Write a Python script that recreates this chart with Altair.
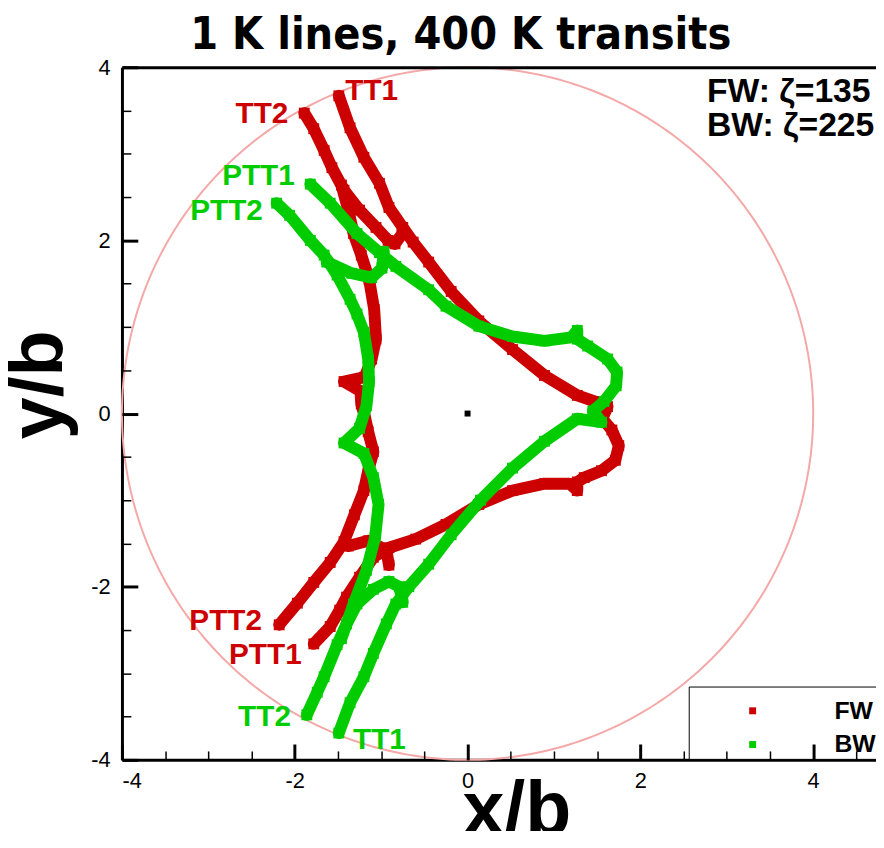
import altair as alt
import numpy as np
import pandas as pd

# ---------------- data (x/b, y/b) ----------------
# FW (red) traces
fw_tt1_x = [-1.49, -1.36, -1.20, -1.02, -0.91, -0.75, -0.63, -0.45, -0.19, 0.13, 0.52, 0.89, 1.27, 1.47, 1.62,
            1.56, 1.67, 1.75, 1.71, 1.55, 1.35, 1.27, 1.27, 1.18, 0.89, 0.52, 0.13, -0.25, -0.60, -0.91,
            -1.09, -1.25, -1.40, -1.48, -1.59, -1.78]
fw_tt1_y = [3.67, 3.30, 2.96, 2.66, 2.38, 2.15, 1.98, 1.75, 1.41, 1.07, 0.74, 0.44, 0.21, 0.14, 0.08,
            -0.06, -0.19, -0.37, -0.54, -0.66, -0.74, -0.79, -0.89, -0.81, -0.81, -0.89, -1.05, -1.28, -1.45, -1.55,
            -1.66, -1.89, -2.12, -2.27, -2.46, -2.66]
fw_tt2_x = [-1.89, -1.78, -1.66, -1.57, -1.43, -1.25, -1.06, -0.92, -0.84, -0.76]
fw_tt2_y = [3.47, 3.29, 3.04, 2.84, 2.58, 2.35, 2.15, 2.00, 1.96, 2.07]
fw_ptt2_x = [-1.46, -1.38, -1.32, -1.23, -1.14, -1.08, -1.06, -1.11, -1.19, -1.43, -1.24, -1.23, -1.19, -1.15,
             -1.09, -1.15, -1.20, -1.31, -1.43, -1.59, -1.78, -1.97, -2.18]
fw_ptt2_y = [2.64, 2.35, 2.08, 1.83, 1.55, 1.20, 0.86, 0.63, 0.42, 0.37, 0.26, 0.11, -0.03, -0.21,
             -0.44, -0.66, -0.89, -1.17, -1.48, -1.72, -1.95, -2.19, -2.44]
fw_z_x = [-1.38, -1.15, -0.94, -0.91]
fw_z_y = [-1.53, -1.47, -1.58, -1.75]

# BW (green) traces
bw_tt1_x = [-1.49, -1.36, -1.20, -1.09, -0.94, -0.83, -0.68, -0.45, -0.19, 0.15, 0.52, 0.89, 1.27, 1.55, 1.45,
            1.58, 1.72, 1.73, 1.62, 1.39, 1.27, 1.27, 1.20, 0.89, 0.52, 0.13, -0.25, -0.45, -0.83, -1.02,
            -1.28, -1.59, -1.82]
bw_tt1_y = [-3.69, -3.34, -3.04, -2.77, -2.43, -2.20, -2.00, -1.74, -1.40, -1.00, -0.63, -0.32, -0.06, -0.10, 0.03,
            0.14, 0.32, 0.48, 0.63, 0.78, 0.86, 0.96, 0.88, 0.84, 0.89, 1.01, 1.24, 1.43, 1.70, 1.86,
            2.08, 2.43, 2.65]
bw_tt2_x = [-1.86, -1.74, -1.66, -1.51, -1.40, -1.28, -1.09, -0.91, -0.79, -0.75]
bw_tt2_y = [-3.48, -3.22, -3.04, -2.67, -2.43, -2.20, -2.03, -1.94, -2.00, -2.18]
bw_ptt2_x = [-1.46, -1.32, -1.17, -1.07, -1.03, -1.09, -1.20, -1.43, -1.25, -1.17, -1.14, -1.15, -1.20, -1.28,
             -1.36, -1.51, -1.66, -1.82, -2.06, -2.21]
bw_ptt2_y = [-2.60, -2.20, -1.81, -1.43, -1.05, -0.74, -0.46, -0.34, -0.17, 0.09, 0.37, 0.63, 0.94, 1.15,
             1.32, 1.60, 1.83, 2.00, 2.29, 2.43]
bw_z_x = [-1.63, -1.34, -1.11, -0.99, -0.97]
bw_z_y = [1.75, 1.62, 1.57, 1.68, 1.87]

series_names = ["FW", "BW"]
series_colors = ["#cc0000", "#00cc00"]

# curve labels
lab_text = ["TT1", "TT2", "PTT2", "PTT1", "PTT1", "PTT2", "TT2", "TT1"]
lab_x = [-1.11, -2.38, -2.80, -2.34, -2.42, -2.79, -2.35, -1.02]
lab_y = [3.62, 3.36, -2.50, -2.89, 2.64, 2.23, -3.61, -3.87]
lab_series = ["FW"] * 4 + ["BW"] * 4

# corner note
note_text = ["FW: ζ=135", "BW: ζ=225"]
note_x = [2.77, 2.77]
note_y = [3.60, 3.21]

chart_title = "1 K lines, 400 K transits"

circle_radius = 4.0
major_ticks = [-4, -2, 0, 2, 4]
minor_x = [-3.5, -3, -2.5, -1.5, -1, -0.5, 0.5, 1, 1.5, 2.5, 3, 3.5, 4.5]
minor_y = [-3.5, -3, -2.5, -1.5, -1, -0.5, 0.5, 1, 1.5, 2.5, 3, 3.5]


# ---------------- tables ----------------
def trace(xs, ys, series, name):
    return pd.DataFrame({"x": xs, "y": ys, "series": series, "trace": name, "i": range(len(xs))})


fw = pd.concat([trace(fw_tt1_x, fw_tt1_y, "FW", "a"), trace(fw_tt2_x, fw_tt2_y, "FW", "b"),
                trace(fw_ptt2_x, fw_ptt2_y, "FW", "c"), trace(fw_z_x, fw_z_y, "FW", "d")])
bw = pd.concat([trace(bw_tt1_x, bw_tt1_y, "BW", "a"), trace(bw_tt2_x, bw_tt2_y, "BW", "b"),
                trace(bw_ptt2_x, bw_ptt2_y, "BW", "c"), trace(bw_z_x, bw_z_y, "BW", "d")])

t = np.linspace(0, 2 * np.pi, 361)
circle = pd.DataFrame({"x": circle_radius * np.cos(t), "y": circle_radius * np.sin(t), "i": range(361)})
center = pd.DataFrame({"x": [0.0], "y": [0.0]})
labels = pd.DataFrame({"x": lab_x, "y": lab_y, "text": lab_text, "series": lab_series})
notes = pd.DataFrame({"x": note_x, "y": note_y, "text": note_text})
title_df = pd.DataFrame({"text": [chart_title]})

W, H = 761, 699
xs = alt.Scale(domain=[-4, 4.727], nice=False, zero=False)
ys = alt.Scale(domain=[-4, 4], nice=False, zero=False)
FONT = "Liberation Sans, Arial, sans-serif"
NARROW = "Liberation Sans Narrow, Arial Narrow, DejaVu Sans Condensed, sans-serif"
color_of = dict(zip(series_names, series_colors))

col_scale = alt.Scale(domain=series_names, range=series_colors)

legend = alt.Legend(title=" ", titleFontSize=6, titlePadding=5, orient="none", legendX=572, legendY=625,
                    symbolType="square", symbolSize=49, symbolOffset=51,
                    labelOffset=70, labelFont=FONT, labelFontSize=25, labelFontWeight="bold",
                    labelColor="black", padding=1, rowPadding=8, strokeColor="black",
                    fillColor="white")

# main axes (labels and titles)
x_main = alt.Axis(orient="bottom", values=major_ticks, labelExpr="'' + datum.value", labelFont=FONT,
                  labelFontSize=22, labelColor="black", labelPadding=11, ticks=False, tickSize=0,
                  domain=True, domainColor="black", domainWidth=3, grid=False, title="x/b",
                  titleFont=FONT, titleFontSize=76, titleFontWeight="bold", titleColor="black",
                  titleX=398, titleY=74, titleBaseline="alphabetic", titleAlign="center")
y_main = alt.Axis(orient="left", values=major_ticks, labelExpr="'' + datum.value", labelFont=FONT,
                  labelFontSize=22, labelColor="black", labelPadding=12, ticks=False, tickSize=0,
                  domain=True, domainColor="black", domainWidth=3, grid=False, title="y/b",
                  titleFont=FONT, titleFontSize=76, titleFontWeight="bold", titleColor="black",
                  titleX=-84, titleY=320, titleAngle=270, titleBaseline="middle", titleAlign="center")

base_circle = alt.Chart(circle).mark_line(color="#f4a8a8", strokeWidth=2).encode(
    x=alt.X("x:Q", scale=xs, axis=x_main),
    y=alt.Y("y:Q", scale=ys, axis=y_main),
    order="i:Q",
)


def curve_layers(df, name):
    line = alt.Chart(df).mark_line(strokeWidth=12, strokeCap="round", strokeJoin="round",
                                   color=color_of[name]).encode(
        x=alt.X("x:Q", scale=xs, axis=None),
        y=alt.Y("y:Q", scale=ys, axis=None),
        detail="trace:N",
        order="i:Q",
    )
    sq = alt.Chart(df).mark_square(size=120, filled=True, opacity=1).encode(
        x=alt.X("x:Q", scale=xs, axis=None),
        y=alt.Y("y:Q", scale=ys, axis=None),
        color=alt.Color("series:N", scale=col_scale, legend=legend),
    )
    return [line, sq]


center_layer = alt.Chart(center).mark_square(size=36, color="black", filled=True, opacity=1).encode(
    x=alt.X("x:Q", scale=xs, axis=None), y=alt.Y("y:Q", scale=ys, axis=None))


def label_layer(name):
    return alt.Chart(labels[labels["series"] == name]).mark_text(
        font=FONT, fontSize=30, fontWeight="bold", baseline="alphabetic", align="center",
        color=color_of[name]).encode(
        x=alt.X("x:Q", scale=xs, axis=None), y=alt.Y("y:Q", scale=ys, axis=None), text="text:N")


note_layer = alt.Chart(notes).mark_text(font=FONT, fontSize=34, fontWeight="bold", color="black",
                                        baseline="alphabetic", align="left").encode(
    x=alt.X("x:Q", scale=xs, axis=None), y=alt.Y("y:Q", scale=ys, axis=None), text="text:N")

title_layer = alt.Chart(title_df).mark_text(font=NARROW, fontSize=45, fontWeight="bold", color="black",
                                            baseline="alphabetic", align="center").encode(
    x=alt.value(342), y=alt.value(-18), text="text:N")


def tick_layer(xvals, yvals, size, width):
    return alt.Chart(center).mark_point(opacity=0).encode(
        x=alt.X("x:Q", scale=xs, axis=alt.Axis(orient="top", offset=-H, values=xvals, ticks=True,
                                                tickSize=size, tickWidth=width, tickColor="black",
                                                labels=False, domain=False, grid=False, title=None,
                                                zindex=1)),
        y=alt.Y("y:Q", scale=ys, axis=alt.Axis(orient="right", offset=-W, values=yvals, ticks=True,
                                                tickSize=size, tickWidth=width, tickColor="black",
                                                labels=False, domain=False, grid=False, title=None,
                                                zindex=1)),
    )


border_layer = alt.Chart(center).mark_point(opacity=0).encode(
    x=alt.X("x:Q", scale=xs, axis=alt.Axis(orient="top", ticks=False, labels=False, domain=True,
                                            domainColor="black", domainWidth=3, grid=False,
                                            title=None, zindex=1)),
    y=alt.Y("y:Q", scale=ys, axis=None),
)

layers = [base_circle] + curve_layers(fw, "FW") + curve_layers(bw, "BW") + [
    center_layer, label_layer("FW"), label_layer("BW"), note_layer, title_layer,
    tick_layer(major_ticks, major_ticks, 16, 3),
    tick_layer(minor_x, minor_y, 9, 1.5),
    border_layer,
]

chart = alt.layer(*layers).resolve_axis(x="independent", y="independent").properties(
    width=W, height=H,
    padding={"left": 115, "top": 56, "right": 0, "bottom": 68},
    autosize=alt.AutoSizeParams(type="none"),
    background="white",
).configure_view(stroke=None)

chart.save("out.html", embed_options={"renderer": "svg", "actions": False})
